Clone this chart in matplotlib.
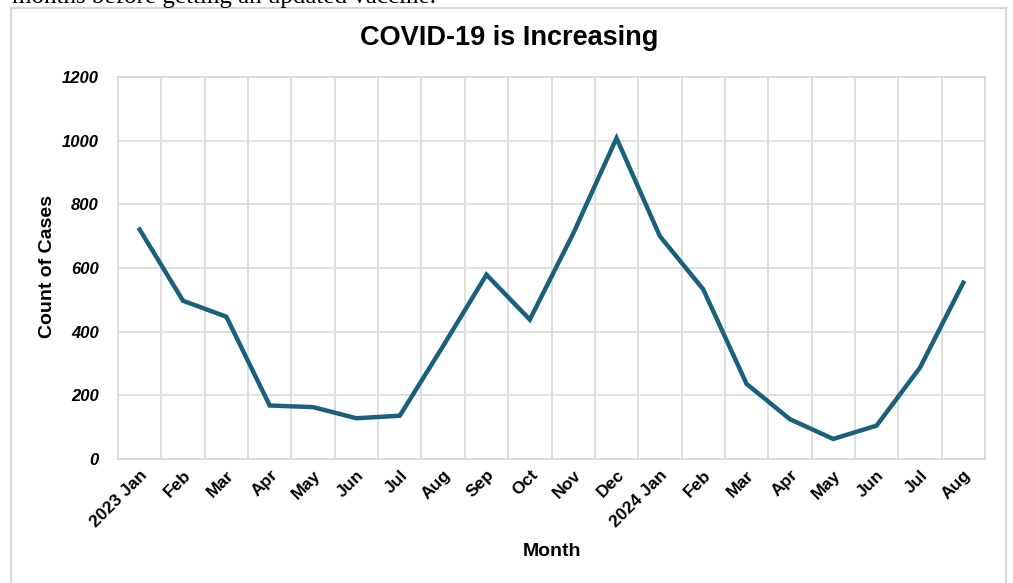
import matplotlib
matplotlib.use("Agg")
import matplotlib.pyplot as plt
from matplotlib.lines import Line2D

months = ["2023 Jan", "Feb", "Mar", "Apr", "May", "Jun", "Jul", "Aug", "Sep", "Oct",
          "Nov", "Dec", "2024 Jan", "Feb", "Mar", "Apr", "May", "Jun", "Jul", "Aug"]
cases = [721, 497, 447, 168, 163, 128, 136, 355, 579, 438,
         708, 1008, 700, 533, 236, 125, 63, 105, 287, 554]
yticks = [0, 200, 400, 600, 800, 1000, 1200]

W, H = 1013, 583
fig = plt.figure(figsize=(W / 100, H / 100), dpi=100)
fig.patch.set_facecolor("white")

grid_c = "#d9d9d9"
line_c = "#1b5f7e"
sans = "Liberation Sans"

def px(x, y):
    return x / W, 1 - y / H

# frame of chart (left, top, right; bottom cut off)
for (x0, y0), (x1, y1) in [((11, 600), (11, 8)), ((11, 8), (1006, 8)), ((1006, 8), (1006, 600))]:
    a, b = px(x0, y0)
    c, d = px(x1, y1)
    fig.add_artist(Line2D([a, c], [b, d], color=grid_c, lw=1.6, transform=fig.transFigure))

# cut-off text from the surrounding document
fig.text(12 / W, 1 - 3 / H, "months before getting an updated vaccine.",
         family="Liberation Serif", fontsize=18, va="baseline", ha="left", color="black")

left, right = 118 / W, 985 / W
bottom, top = 1 - 459 / H, 1 - 77 / H
ax = fig.add_axes([left, bottom, right - left, top - bottom])

x = list(range(len(months)))
ax.plot(x, cases, color=line_c, lw=3.2, solid_joinstyle="miter", zorder=3)

ax.set_xlim(-0.5, len(months) - 0.5)
ax.set_ylim(0, 1200)
ax.set_yticks(yticks)
ax.set_yticklabels([str(v) for v in yticks], fontsize=12, fontweight="bold",
                   fontstyle="italic", family=sans)
ax.set_xticks(x)
ax.set_xticklabels(months, rotation=45, ha="right", rotation_mode="anchor",
                   fontsize=12.5, fontweight="bold", family=sans)
ax.set_xticks([i - 0.5 for i in range(len(months) + 1)], minor=True)
ax.tick_params(axis="both", which="both", length=0)
ax.tick_params(axis="y", pad=14)
ax.tick_params(axis="x", pad=6)

ax.grid(True, axis="y", which="major", color=grid_c, lw=1.2)
ax.grid(True, axis="x", which="minor", color=grid_c, lw=1.2)
ax.grid(False, axis="x", which="major")
for s in ax.spines.values():
    s.set_color(grid_c)
    s.set_linewidth(1.2)
ax.set_axisbelow(True)

fig.text(509 / W, 1 - 38 / H, "COVID-19 is Increasing", ha="center", va="center",
         fontsize=19.5, fontweight="bold", family=sans)
fig.text(552 / W, 1 - 552 / H, "Month", ha="center", va="center",
         fontsize=14, fontweight="bold", family=sans)
fig.text(47 / W, 1 - 267 / H, "Count of Cases", ha="center", va="center", rotation=90,
         fontsize=14, fontweight="bold", family=sans)

fig.savefig("out.png", dpi=100)
